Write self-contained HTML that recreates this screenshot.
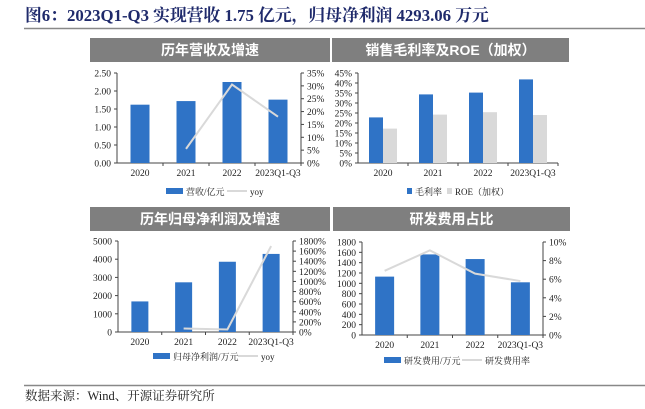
<!DOCTYPE html>
<html><head><meta charset="utf-8"><style>
body{margin:0;width:645px;height:404px;background:#fff;overflow:hidden;font-family:"Liberation Serif","Noto Serif CJK SC",serif}
</style></head><body>
<svg id="s" width="645" height="404" xmlns="http://www.w3.org/2000/svg">
<text x="25" y="21" font-size="16.8" font-weight="bold" fill="#1f2a6b" font-family="Liberation Serif, Noto Serif CJK SC, serif">图6：2023Q1-Q3 实现营收 1.75 亿元，归母净利润 4293.06 万元</text>
<line x1="24" y1="28.5" x2="645" y2="28.5" stroke="#888" stroke-width="1.5"/>
<line x1="24" y1="385.5" x2="645" y2="385.5" stroke="#888" stroke-width="1.5"/>
<text x="25" y="400" font-size="12.5" fill="#222" font-family="Liberation Serif, Noto Serif CJK SC, serif">数据来源：Wind、开源证券研究所</text>
</svg>
<script>
const cats=["2020","2021","2022","2023Q1-Q3"];
const revenue=[1.62,1.72,2.25,1.76];
const revYoy=[null,5.5,30.5,18];
const revTicks=["0.00","0.50","1.00","1.50","2.00","2.50"];
const revYoyTicks=["0%","5%","10%","15%","20%","25%","30%","35%"];
const grossMargin=[22.8,34.3,35.2,41.8];
const roe=[17.2,24.2,25.4,24.0];
const marginTicks=["0%","5%","10%","15%","20%","25%","30%","35%","40%","45%"];
const profit=[1680,2730,3860,4290];
const profitYoy=[null,70,50,1700];
const profitTicks=["0","1000","2000","3000","4000","5000"];
const profitYoyTicks=["0%","200%","400%","600%","800%","1000%","1200%","1400%","1600%","1800%"];
const rd=[1130,1560,1470,1020];
const rdRate=[6.9,9.1,6.6,5.8];
const rdTicks=["0","200","400","600","800","1000","1200","1400","1600","1800"];
const rdRateTicks=["0%","2%","4%","6%","8%","10%"];

const S=document.getElementById('s');
const NS="http://www.w3.org/2000/svg";
function el(t,a,txt){const e=document.createElementNS(NS,t);for(const k in a)e.setAttribute(k,a[k]);if(txt!==undefined)e.textContent=txt;S.appendChild(e);return e;}
const BLUE="#2f73c6",GRAY="#d9d9d9",FONT="Liberation Serif, Noto Serif CJK SC, serif";

function panel(p){
  let e=el('rect',{x:p.tx,y:p.ty,width:p.tw,height:24,fill:'#7f7f7f'});
  
  
  e=el('text',{x:p.tx+p.tw/2,y:p.ty+17,'font-size':14,'font-weight':'bold',fill:'#fff','text-anchor':'middle','font-family':'Liberation Sans, Noto Sans CJK SC, sans-serif'},p.title);
  
  
  const yL=v=>p.y0-(v/p.lmax)*(p.y0-p.y1);
  const yR=v=>p.y0-(v/p.rmax)*(p.y0-p.y1);
  const cw=(p.x1-p.x0)/cats.length;
  const xc=i=>p.x0+cw*(i+0.5);
  e=el('line',{x1:p.x0,y1:p.y1,x2:p.x0,y2:p.y0,stroke:'#444','stroke-width':1});
  
  
  e=el('line',{x1:p.x0,y1:p.y0,x2:p.x1,y2:p.y0,stroke:'#444','stroke-width':1});
  
  
  p.lt.forEach((t,i)=>{const v=i*p.lmax/(p.lt.length-1);const y=yL(v);
    el('line',{x1:p.x0-3,y1:y,x2:p.x0,y2:y,stroke:'#444'});
    e=el('text',{x:p.x0-6,y:y+3.5,'font-size':9.5,'text-anchor':'end',fill:'#222','font-family':FONT},t);
    
    });
  if(p.rt){
    e=el('line',{x1:p.x1,y1:p.y1,x2:p.x1,y2:p.y0,stroke:'#444'});
    
    
    p.rt.forEach((t,i)=>{const v=i*p.rmax/(p.rt.length-1);const y=yR(v);
      el('line',{x1:p.x1,y1:y,x2:p.x1+3,y2:y,stroke:'#444'});
      e=el('text',{x:p.x1+6,y:y+3.5,'font-size':9.5,fill:'#222','font-family':FONT},t);
      
      });
  }
  cats.forEach((c,i)=>{
    el('line',{x1:p.x0+cw*(i+1),y1:p.y0,x2:p.x0+cw*(i+1),y2:p.y0+3,stroke:'#444'});
    e=el('text',{x:xc(i),y:p.y0+13,'font-size':9.5,'text-anchor':'middle',fill:'#222','font-family':FONT},c);
    
    });
  return {yL,yR,xc,cw};
}
function bars(p,ax,vals,off,w,col,name){
  vals.forEach((v,i)=>{const y=ax.yL(v);
    const r=el('rect',{x:ax.xc(i)+off-w/2,y:y,width:w,height:p.y0-y,fill:col});
    
    });
}
function line(ax,vals,name){
  const pts=[];vals.forEach((v,i)=>{if(v!==null)pts.push(ax.xc(i)+','+ax.yR(v));});
  const l=el('polyline',{points:pts.join(' '),fill:'none',stroke:'#d9d9d9','stroke-width':2});
  
  
}
function legend(x,y,items){
  let cx=x;
  items.forEach(it=>{
    let m;
    if(it.type==='bar')m=el('rect',{x:cx,y:y-4,width:it.w||17,height:6,fill:it.c});
    else m=el('line',{x1:cx,y1:y-1,x2:cx+20,y2:y-1,stroke:it.c,'stroke-width':2});
    
    
    const t=el('text',{x:cx+(it.type==='bar'?(it.w||17):20)+3,y:y+3,'font-size':9,fill:'#222','font-family':FONT},it.t);
    
    
    cx+=it.gap;
  });
}

let p1={id:'revenue-chart',title:'历年营收及增速',tx:90,ty:38,tw:240,x0:117,x1:301,y0:163,y1:73,lmax:2.5,rmax:35,lt:revTicks,rt:revYoyTicks};
let a1=panel(p1);bars(p1,a1,revenue,0,19,BLUE,'revenue-bar');line(a1,revYoy,'revenue-yoy-line');
legend(166,192,[{type:'bar',c:BLUE,t:'营收/亿元',gap:61},{type:'line',c:'#d9d9d9',t:'yoy',gap:40}]);

let p2={id:'margin-chart',title:'销售毛利率及ROE（加权）',tx:332,ty:38,tw:237,x0:358,x1:558,y0:163,y1:73,lmax:45,lt:marginTicks};
let a2=panel(p2);bars(p2,a2,grossMargin,-7,14,BLUE,'gross-margin-bar');bars(p2,a2,roe,7,14,GRAY,'roe-bar');
legend(407,192,[{type:'bar',c:BLUE,t:'毛利率',w:5,gap:40},{type:'bar',c:GRAY,t:'ROE（加权）',w:5,gap:60}]);

let p3={id:'profit-chart',title:'历年归母净利润及增速',tx:90,ty:207,tw:240,x0:118,x1:293,y0:332,y1:241,lmax:5000,rmax:1800,lt:profitTicks,rt:profitYoyTicks};
let a3=panel(p3);bars(p3,a3,profit,0,17,BLUE,'profit-bar');line(a3,profitYoy,'profit-yoy-line');
legend(153,357,[{type:'bar',c:BLUE,t:'归母净利润/万元',gap:85},{type:'line',c:'#d9d9d9',t:'yoy',gap:40}]);

let p4={id:'rd-chart',title:'研发费用占比',tx:333,ty:207,tw:237,x0:362,x1:543,y0:335,y1:242,lmax:1800,rmax:10,lt:rdTicks,rt:rdRateTicks};
let a4=panel(p4);bars(p4,a4,rd,0,19,BLUE,'rd-expense-bar');line(a4,rdRate,'rd-rate-line');
legend(384,361,[{type:'bar',c:BLUE,t:'研发费用/万元',gap:78},{type:'line',c:'#d9d9d9',t:'研发费用率',gap:60}]);
</script>
</body></html>
